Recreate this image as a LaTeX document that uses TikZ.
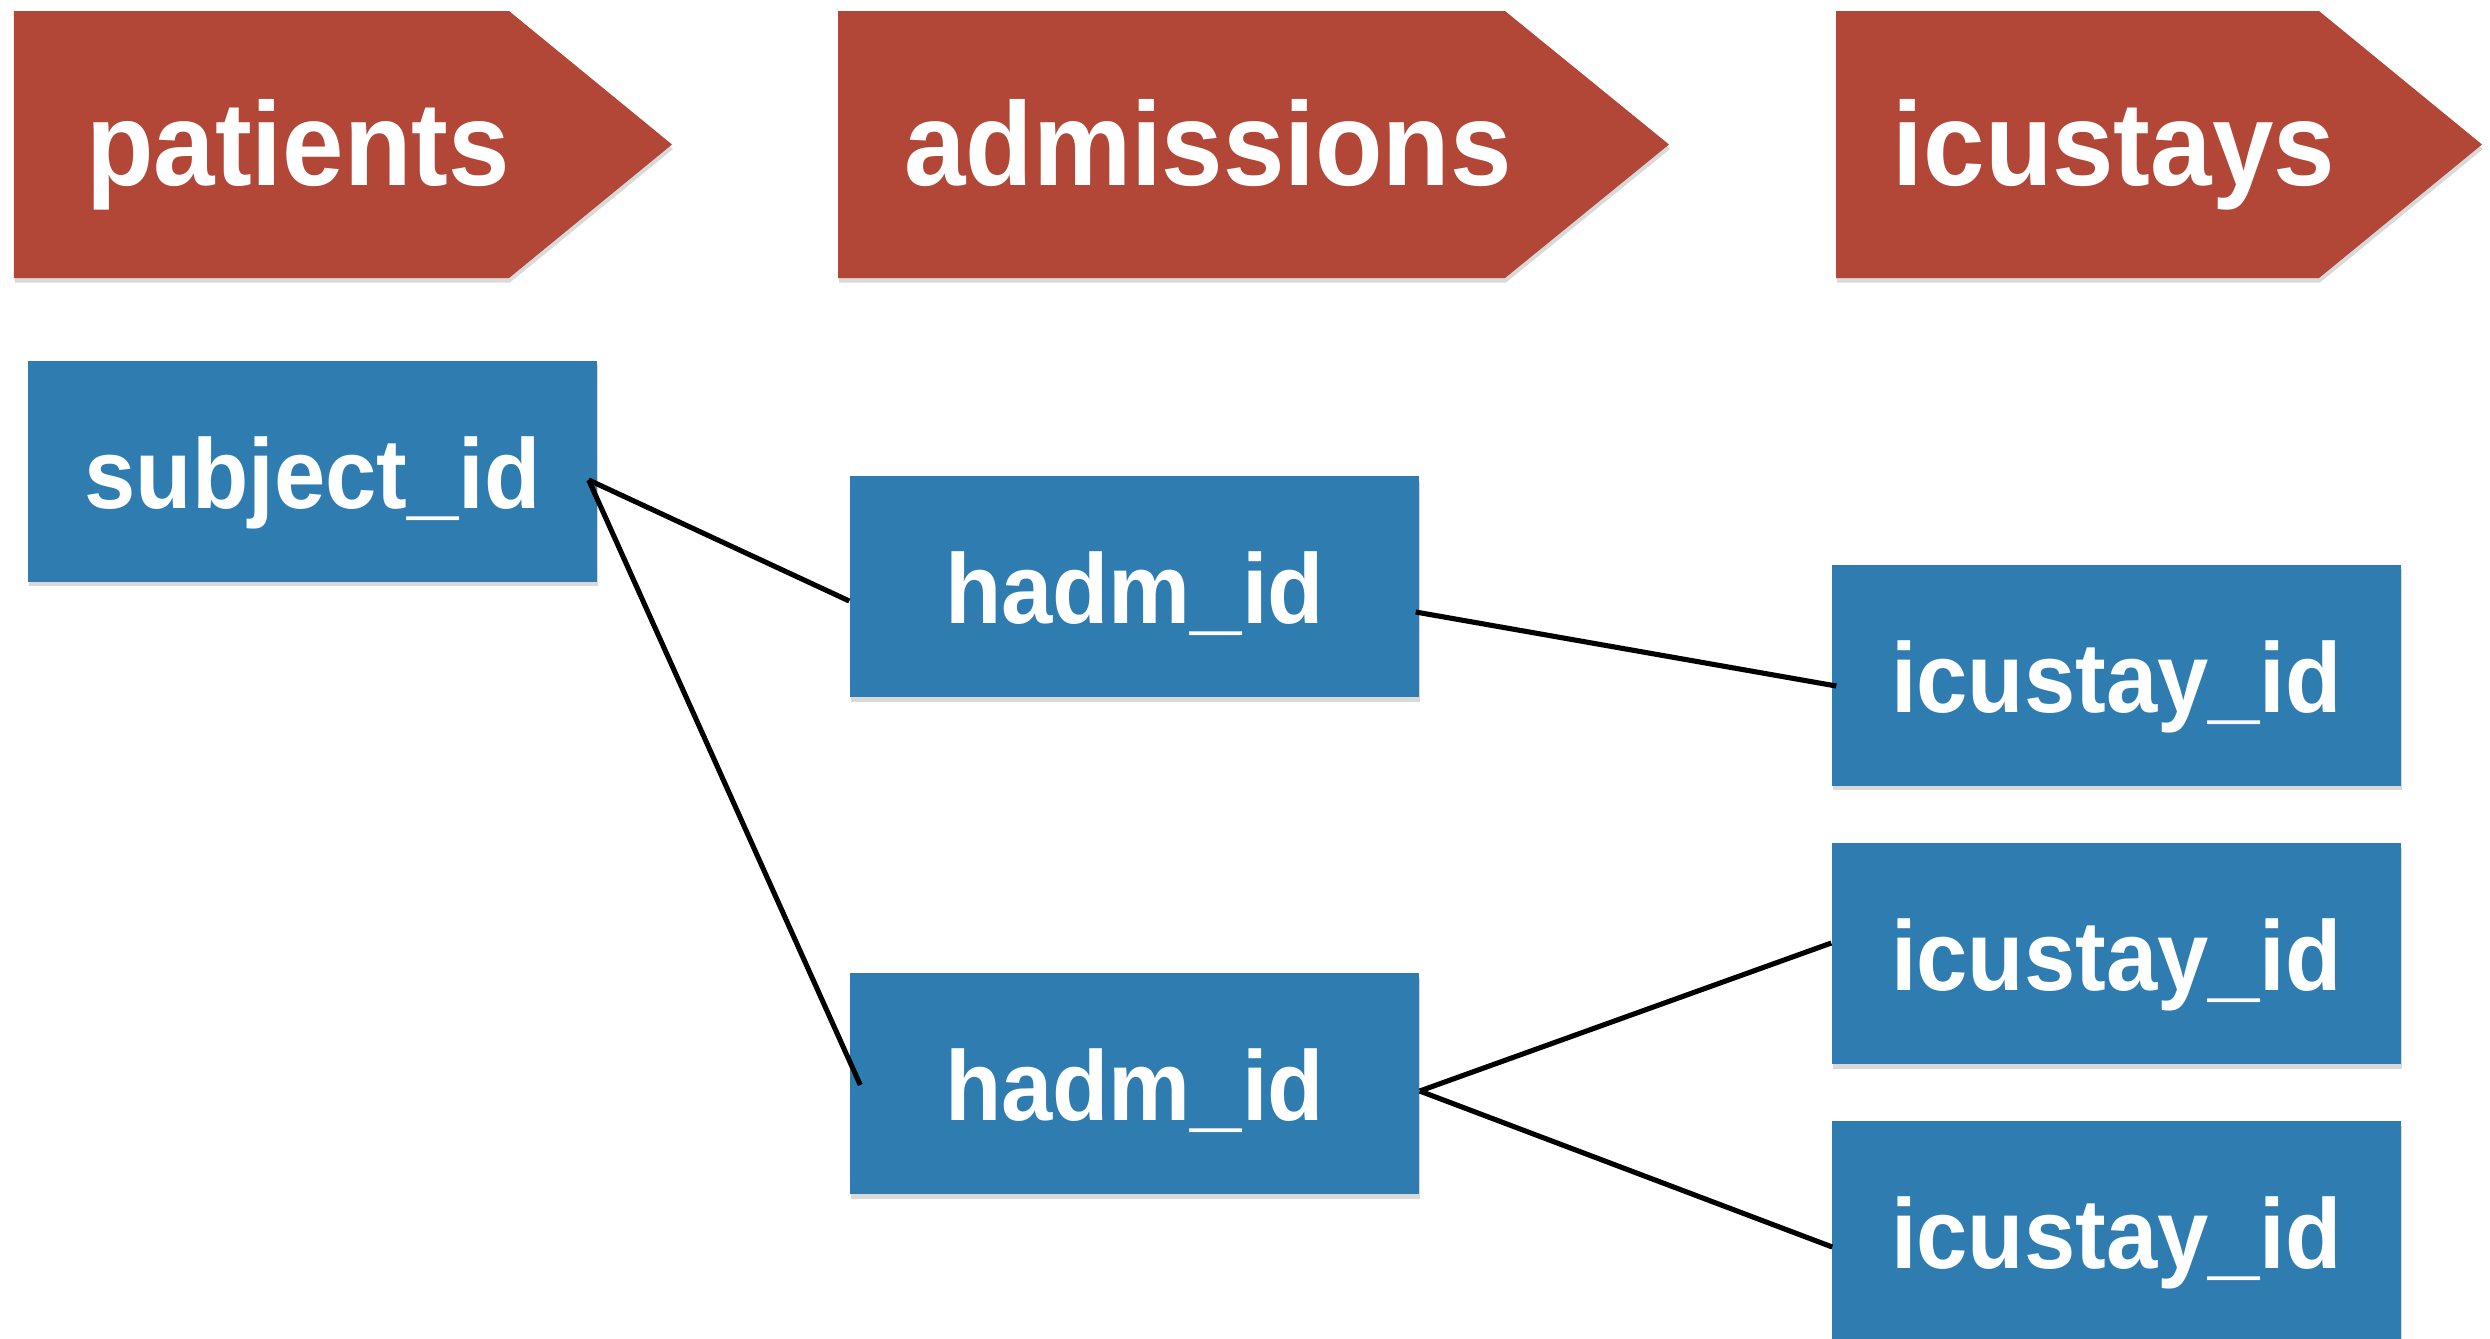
\documentclass[tikz,border=0pt]{standalone}
\usepackage{fontspec}
\setmainfont{Liberation Sans}[FakeStretch=0.93]
\usetikzlibrary{calc, shadows}
\definecolor{tblred}{HTML}{B24637}
\definecolor{keyblue}{HTML}{2F7DB0}
\tikzset{
    tblhead/.style={fill=tblred, drop shadow={shadow xshift=0.01cm, shadow yshift=-0.045cm, opacity=0.3}},
    tbltext/.style={anchor=base, text=white, font=\fontsize{33.8}{36}\selectfont\bfseries},
    keybox/.style={rectangle, fill=keyblue, minimum width=5.69cm, minimum height=2.21cm, inner sep=0pt,
        text=white, text height=0.9cm, text depth=0.16cm, font=\fontsize{28.2}{30}\selectfont\bfseries,
        drop shadow={shadow xshift=0.01cm, shadow yshift=-0.045cm, opacity=0.3}},
    keylink/.style={draw=black, line width=1.45pt}
}

\begin{document}
\begin{tikzpicture}
    \useasboundingbox (0,0) rectangle (24.9,-13.38);

    % Table headers
    \fill[tblhead] (0.14,-0.11) -- (5.09,-0.11) -- (6.72,-1.445) -- (5.09,-2.78) -- (0.14,-2.78) -- cycle;
    \fill[tblhead] (8.38,-0.11) -- (15.05,-0.11) -- (16.69,-1.445) -- (15.05,-2.78) -- (8.38,-2.78) -- cycle;
    \fill[tblhead] (18.36,-0.11) -- (23.19,-0.11) -- (24.82,-1.445) -- (23.19,-2.78) -- (18.36,-2.78) -- cycle;
    \node[tbltext] (patients) at (2.98,-1.85) {patients};
    \node[tbltext] (admissions) at (12.08,-1.85) {admissions};
    \node[tbltext] (icustays) at (21.14,-1.85) {icustays};

    % Key columns
    \node[keybox] (sid) at (3.125,-4.71) {subject\_id};
    \node[keybox] (hadm1) at (11.345,-5.865) {hadm\_id};
    \node[keybox] (hadm2) at (11.345,-10.835) {hadm\_id};
    \node[keybox] (icu1) at (21.165,-6.75) {icustay\_id};
    \node[keybox] (icu2) at (21.165,-9.535) {icustay\_id};
    \node[keybox] (icu3) at (21.165,-12.315) {icustay\_id};

    % Links between keys
    \draw[keylink] ([shift={(-0.09,-0.09)}]sid.east) -- ([shift={(0,-0.145)}]hadm1.west);
    \draw[keylink] ([shift={(-0.09,-0.09)}]sid.east) -- ([shift={(0.11,-0.015)}]hadm2.west);
    \draw[keylink] ([shift={(-0.04,-0.255)}]hadm1.east) -- ([shift={(0.05,-0.11)}]icu1.west);
    \draw[keylink] ([shift={(0,-0.075)}]hadm2.east) -- ([shift={(0,0.105)}]icu2.west);
    \draw[keylink] ([shift={(0,-0.075)}]hadm2.east) -- ([shift={(0.01,-0.155)}]icu3.west);
\end{tikzpicture}
\end{document}
